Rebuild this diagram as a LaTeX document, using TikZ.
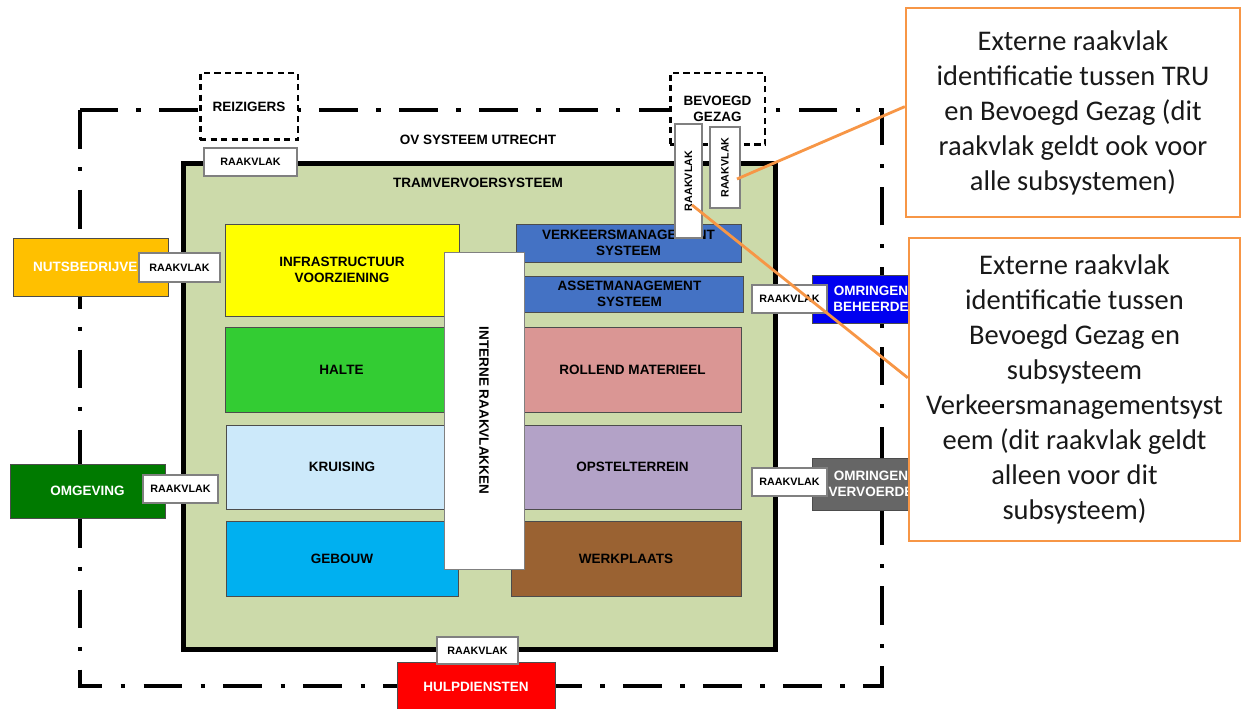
\documentclass[tikz,border=0pt]{standalone}
\usepackage{fontspec}
\setmainfont{Liberation Sans}
\newfontfamily\calibri{Carlito}
\usetikzlibrary{positioning}

\definecolor{tramgroen}{RGB}{204,218,170}
\definecolor{geel}{RGB}{255,255,0}
\definecolor{haltegroen}{RGB}{51,204,51}
\definecolor{lichtblauw}{RGB}{204,233,250}
\definecolor{hemelblauw}{RGB}{0,176,240}
\definecolor{staalblauw}{RGB}{68,114,196}
\definecolor{oudroze}{RGB}{218,150,148}
\definecolor{lila}{RGB}{179,162,199}
\definecolor{bruin}{RGB}{154,98,50}
\definecolor{oranjegeel}{RGB}{255,192,0}
\definecolor{donkergroen}{RGB}{0,122,0}
\definecolor{felblauw}{RGB}{0,0,240}
\definecolor{donkergrijs}{RGB}{102,102,102}
\definecolor{rood}{RGB}{255,0,0}
\definecolor{uitlegoranje}{RGB}{247,150,70}

\begin{document}
\begin{tikzpicture}[x=0.02cm, y=-0.02cm,
    kop/.style={font=\bfseries\fontsize{7.7}{9}\selectfont, inner sep=0pt},
    blok/.style={draw=black!70, thin, align=center, inner sep=1pt,
        font=\bfseries\fontsize{7.7}{9}\selectfont},
    extern/.style={blok, text=white},
    stippel/.style={blok, draw=black, fill=white, line width=1.7pt,
        dash pattern=on 3.5pt off 2.5pt},
    raak/.style={draw=black!50, line width=0.8pt, fill=white, inner sep=0pt,
        font=\bfseries\fontsize{6.1}{7}\selectfont},
    omkader/.style={line width=2.4pt,
        dash pattern=on 22pt off 10.5pt on 2.5pt off 10.5pt},
    uitleg/.style={draw=uitlegoranje, line width=1.4pt, fill=white, align=center,
        inner sep=0pt, text=black!90, font=\calibri\fontsize{16.2}{19.9}\selectfont},
    wijzer/.style={draw=uitlegoranje, line width=1.6pt}
]
\useasboundingbox (0,0) rectangle (1243,709);

% OV systeem
\draw[omkader] (80,110) rectangle (882,686);
\node[stippel, minimum width=1.96cm, minimum height=1.34cm] (reizigers) at (249,106.5) {REIZIGERS};
\node[stippel, minimum width=1.9cm, minimum height=1.44cm] (bevoegd) at (717.5,109) {BEVOEGD\\GEZAG};
\node[kop] (ovkop) at (478,140) {OV SYSTEEM UTRECHT};

% tramvervoersysteem
\node[draw, line width=2.8pt, fill=tramgroen, minimum width=11.86cm, minimum height=9.74cm] (tram) at (479.5,406.5) {};
\node[kop] (tramkop) at (478,183) {TRAMVERVOERSYSTEEM};

% subsystemen links
\node[blok, fill=geel, minimum width=4.68cm, minimum height=1.84cm] (infra) at (342,270) {INFRASTRUCTUUR\\VOORZIENING};
\node[blok, fill=haltegroen, minimum width=4.66cm, minimum height=1.7cm] (halte) at (341.5,369.5) {HALTE};
\node[blok, fill=lichtblauw, minimum width=4.64cm, minimum height=1.68cm] (kruising) at (342,467) {KRUISING};
\node[blok, fill=hemelblauw, minimum width=4.64cm, minimum height=1.5cm] (gebouw) at (342,558.5) {GEBOUW};

% subsystemen rechts
\node[blok, fill=staalblauw, minimum width=4.5cm, minimum height=0.76cm] (verkeer) at (628.5,243) {VERKEERSMANAGEMENT\\SYSTEEM};
\node[blok, fill=staalblauw, minimum width=4.54cm, minimum height=0.72cm] (asset) at (629.5,294) {ASSETMANAGEMENT\\SYSTEEM};
\node[blok, fill=oudroze, minimum width=4.34cm, minimum height=1.7cm] (rollend) at (632.5,369.5) {ROLLEND MATERIEEL};
\node[blok, fill=lila, minimum width=4.34cm, minimum height=1.68cm] (opstel) at (632.5,467) {OPSTELTERREIN};
\node[blok, fill=bruin, minimum width=4.6cm, minimum height=1.5cm] (werk) at (626,558.5) {WERKPLAATS};

\node[blok, fill=white, draw=black!50, rotate=-90, minimum width=6.34cm, minimum height=1.6cm] (interne) at (484,410.5) {INTERNE RAAKVLAKKEN};

% raakvlakken met bevoegd gezag
\node[raak, rotate=90, minimum width=2.28cm, minimum height=0.54cm] (rvbev1) at (688.5,181) {RAAKVLAK};
\node[raak, rotate=90, minimum width=1.62cm, minimum height=0.6cm] (rvbev2) at (725,167.5) {RAAKVLAK};

% externe partijen
\node[extern, fill=oranjegeel, minimum width=3.1cm, minimum height=1.16cm, text width=2.3cm, align=left, inner xsep=0.4cm] (nuts) at (90.5,267) {NUTSBEDRIJVE};
\node[extern, fill=donkergroen, minimum width=3.1cm, minimum height=1.08cm] (omgeving) at (87.5,491) {OMGEVING};
\node[extern, fill=felblauw, minimum width=2.36cm, minimum height=0.96cm] (beheer) at (871,299) {OMRINGEN\\BEHEERDE};
\node[extern, fill=donkergrijs, minimum width=2.36cm, minimum height=1.04cm] (vervoer) at (871,484) {OMRINGEN\\VERVOERDE};
\node[extern, fill=rood, minimum width=3.16cm, minimum height=1.0cm] (hulp) at (476,687) {HULPDIENSTEN};

% raakvlakken
\node[raak, minimum width=1.86cm, minimum height=0.56cm] (rvreiz) at (250.5,162) {RAAKVLAK};
\node[raak, minimum width=1.62cm, minimum height=0.58cm] (rvnuts) at (179.5,267.5) {RAAKVLAK};
\node[raak, minimum width=1.5cm, minimum height=0.56cm] (rvomg) at (180.5,489) {RAAKVLAK};
\node[raak, minimum width=1.5cm, minimum height=0.56cm] (rvbeh) at (789.5,299) {RAAKVLAK};
\node[raak, minimum width=1.5cm, minimum height=0.56cm] (rvverv) at (789.5,482) {RAAKVLAK};
\node[raak, minimum width=1.62cm, minimum height=0.54cm] (rvhulp) at (477.5,650.5) {RAAKVLAK};

% toelichting
\node[uitleg, minimum width=6.68cm, minimum height=4.18cm] (uitleg1) at (1073,112.5)
    {Externe raakvlak\\identificatie tussen TRU\\en Bevoegd Gezag (dit\\raakvlak geldt ook voor\\alle subsystemen)};
\node[uitleg, minimum width=6.62cm, minimum height=6.06cm] (uitleg2) at (1074.5,389.5)
    {Externe raakvlak\\identificatie tussen\\Bevoegd Gezag en\\subsysteem\\Verkeersmanagementsyst\\eem (dit raakvlak geldt\\alleen voor dit\\subsysteem)};

\coordinate (punt1) at (737,179);
\coordinate (punt2) at (692,205);
\draw[wijzer] (uitleg1.178) -- (punt1);
\draw[wijzer] (uitleg2.176) -- (punt2);
\end{tikzpicture}
\end{document}
